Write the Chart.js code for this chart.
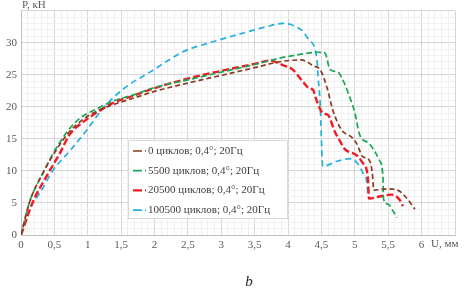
<!DOCTYPE html>
<html>
<head>
<meta charset="utf-8">
<script src="https://cdn.jsdelivr.net/npm/chart.js@4/dist/chart.umd.min.js"></script>
<style>
  html, body { margin: 0; padding: 0; background: #fff; }
  #wrap { width: 469px; height: 289px; }
</style>
</head>
<body>
<div id="wrap"><canvas id="chart"></canvas></div>
<script>
// series: displacement U (mm) and load P (kN)
const labels = ['0 циклов; 0,4°; 20Гц', '5500 циклов; 0,4°; 20Гц', '20500 циклов; 0,4°; 20Гц', '100500 циклов; 0,4°; 20Гц'];

const u0 = [0, 0.13, 0.33, 0.5, 0.7, 0.9, 1.15, 1.4, 1.7, 2.0, 2.5, 3.0, 3.5, 3.92, 4.2, 4.3, 4.37, 4.48, 4.58, 4.67, 4.8, 4.96, 5.03, 5.12, 5.22, 5.27, 5.28, 5.48, 5.64, 5.78, 5.9];
const p0 = [0, 5.2, 9.7, 12.8, 15.8, 17.8, 19.4, 20.4, 21.4, 22.4, 23.7, 24.9, 26.1, 27.1, 27.3, 26.9, 26.4, 25.8, 23.1, 19.5, 16.4, 15.2, 14.2, 12.2, 11.6, 8.7, 7.0, 7.2, 7.0, 5.7, 4.0];

const u5500 = [0, 0.13, 0.33, 0.48, 0.69, 0.88, 1.14, 1.38, 1.7, 2.0, 2.5, 3.0, 3.5, 3.88, 4.2, 4.45, 4.55, 4.63, 4.75, 4.82, 4.93, 5.0, 5.07, 5.22, 5.37, 5.42, 5.43, 5.5, 5.58, 5.63];
const p5500 = [0, 5.2, 9.7, 12.7, 16.1, 18.2, 19.7, 20.9, 21.9, 23.0, 24.2, 25.4, 26.6, 27.6, 28.2, 28.5, 28.4, 25.8, 25.4, 24.2, 21.3, 19.1, 15.7, 14.2, 11.6, 9.2, 5.6, 4.8, 3.6, 2.7];

const u20500 = [0, 0.18, 0.39, 0.58, 0.73, 0.93, 1.18, 1.38, 1.7, 2.0, 2.5, 3.0, 3.5, 3.73, 3.92, 4.07, 4.2, 4.33, 4.37, 4.43, 4.52, 4.6, 4.7, 4.78, 4.85, 5.03, 5.12, 5.18, 5.2, 5.21, 5.37, 5.55, 5.67, 5.72];
const p20500 = [0, 5.2, 9.3, 12.7, 15.7, 17.6, 19.4, 20.6, 21.8, 22.9, 24.4, 25.6, 26.7, 27.2, 26.5, 25.8, 24.2, 22.8, 22.7, 20.9, 19.0, 18.7, 16.1, 14.6, 13.4, 12.4, 11.2, 10.0, 8.2, 5.7, 6.0, 6.3, 5.5, 4.5];

const u100500 = [0, 0.15, 0.28, 0.48, 0.73, 0.98, 1.18, 1.33, 1.6, 1.93, 2.08, 2.43, 2.93, 3.43, 3.68, 3.92, 4.05, 4.13, 4.22, 4.3, 4.43, 4.45, 4.48, 4.52, 4.73, 4.93, 5.04, 5.12, 5.18, 5.2];
const p100500 = [0, 4.5, 6.5, 10.1, 13.1, 16.3, 19.1, 20.9, 23.3, 25.4, 26.4, 28.6, 30.3, 31.8, 32.5, 33.0, 32.8, 32.4, 31.8, 30.6, 27.6, 24.6, 20.6, 10.7, 11.5, 11.9, 11.2, 9.7, 8.2, 6.0];

const colors = ['#8b3a1e', '#1aa657', '#ee1c24', '#22b0dc'];
const widths = [1.7, 1.7, 2.4, 1.7];
const dashes = [[5, 3], [6, 3], [7, 3], [6, 4]];

const toPoints = (us, ps) => us.map((x, i) => ({ x: x, y: ps[i] }));
const series = [toPoints(u0, p0), toPoints(u5500, p5500), toPoints(u20500, p20500), toPoints(u100500, p100500)];

const isMajor = (v, step) => Math.abs(v / step - Math.round(v / step)) < 1e-6;

// legend box, axis titles and caption drawn on the canvas
const extras = {
    id: 'extras',
    afterDraw(chart) {
        const c = chart.ctx;
        c.save();
        // legend
        c.fillStyle = '#fff';
        c.fillRect(128, 140, 159, 78);
        c.strokeStyle = '#d9d9d9';
        c.lineWidth = 1;
        c.strokeRect(128.5, 140.5, 159, 78);
        c.font = '11px "Liberation Serif", "DejaVu Serif", serif';
        c.textBaseline = 'middle';
        c.textAlign = 'left';
        labels.forEach((lab, i) => {
            const y = 151 + i * 19.7;
            c.strokeStyle = colors[i];
            c.lineWidth = widths[i];
            c.setLineDash([9, 3]);
            c.beginPath();
            c.moveTo(133, y);
            c.lineTo(146, y);
            c.stroke();
            c.setLineDash([]);
            c.fillStyle = '#404040';
            c.fillText(lab, 148, y);
        });
        // axis titles
        c.fillStyle = '#595959';
        c.fillText('P, кН', 22, 5);
        c.fillText('U, мм', 431, 244);
        // caption
        c.fillStyle = '#222';
        c.font = 'italic 15px "Liberation Serif", serif';
        c.textAlign = 'center';
        c.fillText('b', 249, 282);
        c.restore();
    }
};

new Chart(document.getElementById('chart').getContext('2d'), {
    type: 'scatter',
    data: {
        datasets: series.map((pts, i) => ({
            label: labels[i],
            data: pts,
            showLine: true,
            borderColor: colors[i],
            backgroundColor: colors[i],
            borderWidth: widths[i],
            borderDash: dashes[i],
            pointRadius: 0,
            cubicInterpolationMode: 'monotone'
        }))
    },
    options: {
        responsive: true,
        maintainAspectRatio: false,
        animation: false,
        layout: { padding: { left: 0, right: 14, top: 1, bottom: 34 } },
        scales: {
            x: {
                type: 'linear',
                min: 0,
                max: 6.5,
                afterFit: (s) => { s.height = 20; },
                border: { color: '#bfbfbf' },
                grid: {
                    drawTicks: false,
                    color: (ctx) => ctx.tick && isMajor(ctx.tick.value, 0.5) ? '#d6d6d6' : '#f0f0f0'
                },
                ticks: {
                    stepSize: 0.1,
                    autoSkip: false,
                    maxRotation: 0,
                    padding: 4,
                    color: '#595959',
                    font: { family: '"Liberation Serif", serif', size: 11 },
                    callback: (v) => (isMajor(v, 0.5) && v < 6.4) ? String(Math.round(v * 10) / 10).replace('.', ',') : ''
                }
            },
            y: {
                min: 0,
                max: 35,
                afterFit: (s) => { s.width = 21; },
                border: { color: '#bfbfbf' },
                grid: {
                    drawTicks: false,
                    color: (ctx) => ctx.tick && isMajor(ctx.tick.value, 5) ? '#d6d6d6' : '#f0f0f0'
                },
                ticks: {
                    stepSize: 1,
                    autoSkip: false,
                    padding: 4,
                    color: '#595959',
                    font: { family: '"Liberation Serif", serif', size: 11 },
                    callback: (v) => (isMajor(v, 5) && v < 34) ? String(v) : ''
                }
            }
        },
        plugins: {
            legend: { display: false },
            tooltip: { enabled: false }
        }
    },
    plugins: [extras]
});
</script>
</body>
</html>
